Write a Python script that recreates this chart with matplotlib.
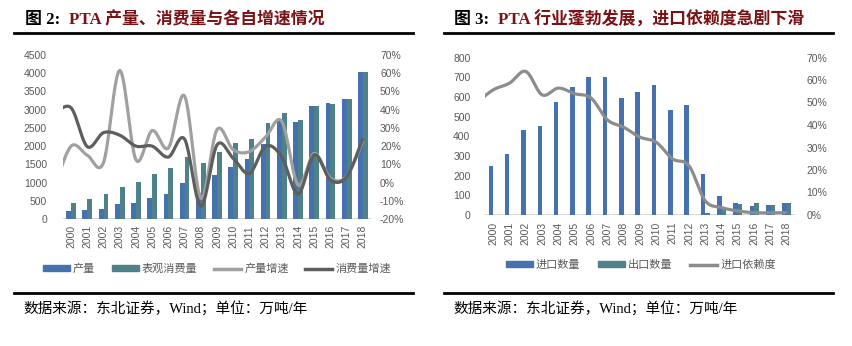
import numpy as np
import matplotlib
matplotlib.use('Agg')
import matplotlib.pyplot as plt
from matplotlib.lines import Line2D
from matplotlib.patches import Patch
from matplotlib.ticker import FuncFormatter

plt.rcParams['font.family'] = ['Liberation Sans', 'Noto Sans CJK SC']

BLUE = '#4572AE'
TEAL = '#4E8288'
LIGHT = '#A0A0A0'
DARK = '#5E5E5E'
MID = '#8C8C8C'
TICK = '#595959'
TITLE_RED = '#7B1113'

years = [str(y) for y in range(2000, 2019)]

# figure 2: production / apparent consumption (10k t) and growth (%)
production = [230, 250, 265, 420, 450, 575, 685, 1000, 700, 1215,
              1415, 1655, 2050, 2715, 2670, 3100, 3175, 3285, 4040]
consumption = [450, 540, 685, 880, 1015, 1225, 1390, 1700, 1545, 1830,
               2095, 2205, 2625, 2910, 2715, 3100, 3155, 3285, 4040]
# growth series start one year earlier (1999), clipped by the plot edge
prod_growth = [-2, 20, 15, 11, 61.5, 12.5, 28.5, 19, 47.5, -8.5, 29,
               18, 17, 25, 33.5, -1.3, 16, 2.4, 3.5, 23]
cons_growth = [38, 41, 19.7, 27.4, 26, 20, 20, 14, 23.8, -13, 20.6,
               13.3, 5, 20, 14, -6.3, 15.2, 1.4, 3.2, 24.3]

# figure 3: imports / exports (10k t) and import dependency (%)
imports = [249, 310, 430, 454, 575, 651, 700, 700, 595, 626,
           662, 534, 560, 208, 94, 63, 44, 49, 60]
exports = [0, 0, 0, 0, 0, 0, 0, 0, 0, 0,
           0, 0, 0, 8, 43, 56, 63, 49, 63]
import_dep = [50, 55.6, 58.6, 63.8, 53.4, 56.4, 53.9, 52, 42.3, 39, 34.6,
              32.3, 24.9, 21.9, 6.3, 3.3, 1.8, 1.0, 1.0, 1.0]

W, H = 852, 346


def smooth(x, y, n=24):
    """Catmull-Rom curve through the points, like Excel's smoothed line."""
    x = np.asarray(x, float)
    y = np.asarray(y, float)
    px = np.concatenate([[x[0]], x, [x[-1]]])
    py = np.concatenate([[y[0]], y, [y[-1]]])
    xs, ys = [], []
    t = np.linspace(0, 1, n, endpoint=False)
    for i in range(1, len(px) - 2):
        for p, out in ((px, xs), (py, ys)):
            p0, p1, p2, p3 = p[i - 1], p[i], p[i + 1], p[i + 2]
            out.append(0.5 * ((2 * p1) + (-p0 + p2) * t
                              + (2 * p0 - 5 * p1 + 4 * p2 - p3) * t ** 2
                              + (-p0 + 3 * p1 - 3 * p2 + p3) * t ** 3))
    xs.append([x[-1]])
    ys.append([y[-1]])
    return np.concatenate(xs), np.concatenate(ys)


def px_axes(l, t, r, b):
    return fig.add_axes([l / W, 1 - b / H, (r - l) / W, (b - t) / H])


def style(ax, lpad):
    for s in ax.spines.values():
        s.set_visible(False)
    ax.tick_params(axis='both', length=0, labelsize=7.5, labelcolor=TICK)
    ax.tick_params(axis='y', pad=lpad)


fig = plt.figure(figsize=(W / 100, H / 100), dpi=100)

# ---------- left chart ----------
ax1 = px_axes(63, 55, 371, 219)
x = np.arange(len(years))
bw = 0.3
ax1.bar(x - bw / 2, production, bw, color=BLUE, zorder=2)
ax1.bar(x + bw / 2, consumption, bw, color=TEAL, zorder=2)
ax1.axhline(0, color='#D9D9D9', lw=1.5, zorder=1)
ax1.set_xlim(-0.5, 18.5)
ax1.set_ylim(0, 4500)
ax1.set_yticks(range(0, 4501, 500))
ax1.set_xticks(x)
ax1.set_xticklabels(years, rotation=90)
style(ax1, 11.5)
ax1.tick_params(axis='x', pad=4.3)

ax1b = ax1.twinx()
xg = np.arange(-1, len(years))
sx, sy = smooth(xg, prod_growth)
ax1b.plot(sx, sy, color=LIGHT, lw=2.3, solid_capstyle='butt', zorder=3)
sx, sy = smooth(xg, cons_growth)
ax1b.plot(sx, sy, color=DARK, lw=2.3, solid_capstyle='butt', zorder=4)
ax1b.set_xlim(-0.5, 18.5)
ax1b.set_ylim(-20, 70)
ax1b.set_yticks(range(-20, 71, 10))
ax1b.yaxis.set_major_formatter(FuncFormatter(lambda v, p: f'{v:.0f}%'))
style(ax1b, 6.5)

leg_font = {'family': ['Noto Sans CJK SC'], 'size': 8}
h1 = [Patch(color=BLUE, label='产量'), Patch(color=TEAL, label='表观消费量'),
      Line2D([], [], color=LIGHT, lw=2.5, label='产量增速'),
      Line2D([], [], color=DARK, lw=2.5, label='消费量增速')]
fig.legend(handles=h1, loc='center', bbox_to_anchor=(217 / W, 1 - 269 / H),
           ncol=4, frameon=False, prop=leg_font, labelcolor=TICK,
           handlelength=2.4, handleheight=0.5, columnspacing=1.5, handletextpad=0.3)

# ---------- right chart ----------
ax2 = px_axes(485, 57.5, 795, 215)
ax2.bar(x - 0.14, imports, 0.28, color=BLUE, zorder=2)
ax2.bar(x + 0.14, exports, 0.28, color=TEAL, zorder=2)
ax2.axhline(0, color='#D9D9D9', lw=1.5, zorder=1)
ax2.set_xlim(-0.5, 18.5)
ax2.set_ylim(0, 800)
ax2.set_yticks(range(0, 801, 100))
ax2.set_xticks(x)
ax2.set_xticklabels(years, rotation=90)
style(ax2, 10.5)
ax2.tick_params(axis='x', pad=4.8)

ax2b = ax2.twinx()
sx, sy = smooth(xg, import_dep)
ax2b.plot(sx, sy, color=MID, lw=2.3, solid_capstyle='butt', zorder=3)
ax2b.set_xlim(-0.5, 18.5)
ax2b.set_ylim(0, 70)
ax2b.set_yticks(range(0, 71, 10))
ax2b.yaxis.set_major_formatter(FuncFormatter(lambda v, p: f'{v:.0f}%'))
style(ax2b, 8.4)

h2 = [Patch(color=BLUE, label='进口数量'), Patch(color=TEAL, label='出口数量'),
      Line2D([], [], color=MID, lw=2.5, label='进口依赖度')]
fig.legend(handles=h2, loc='center', bbox_to_anchor=(641 / W, 1 - 265 / H),
           ncol=3, frameon=False, prop=leg_font, labelcolor=TICK,
           handlelength=2.4, handleheight=0.5, columnspacing=1.6, handletextpad=0.3)

# ---------- titles, rules and source notes ----------
title_fam = ['Liberation Serif', 'Noto Sans CJK SC']
panels = [(14, 413, 25, '图 2:', 'PTA 产量、消费量与各自增速情况'),
          (444, 833, 454, '图 3:', 'PTA 行业蓬勃发展，进口依赖度急剧下滑')]
for x0, x1, tx, num, rest in panels:
    t = fig.text(tx / W, 1 - 20 / H, num + '  ', family=title_fam, weight='bold',
                 size=12.2, va='center', color='black')
    fig.canvas.draw()
    bb = t.get_window_extent()
    fig.text(bb.x1 / W, 1 - 20 / H, rest, family=title_fam, weight='bold',
             size=12.2, va='center', color=TITLE_RED)
    for y in (33, 293):
        fig.add_artist(Line2D([x0 / W, x1 / W], [1 - y / H, 1 - y / H],
                              color='black', lw=2))
    fig.text((x0 + 9) / W, 1 - 309 / H, '数据来源：东北证券，Wind；单位：万吨/年',
             family=title_fam, size=10.5, va='center', color='black')

fig.savefig('out.png', dpi=100)
